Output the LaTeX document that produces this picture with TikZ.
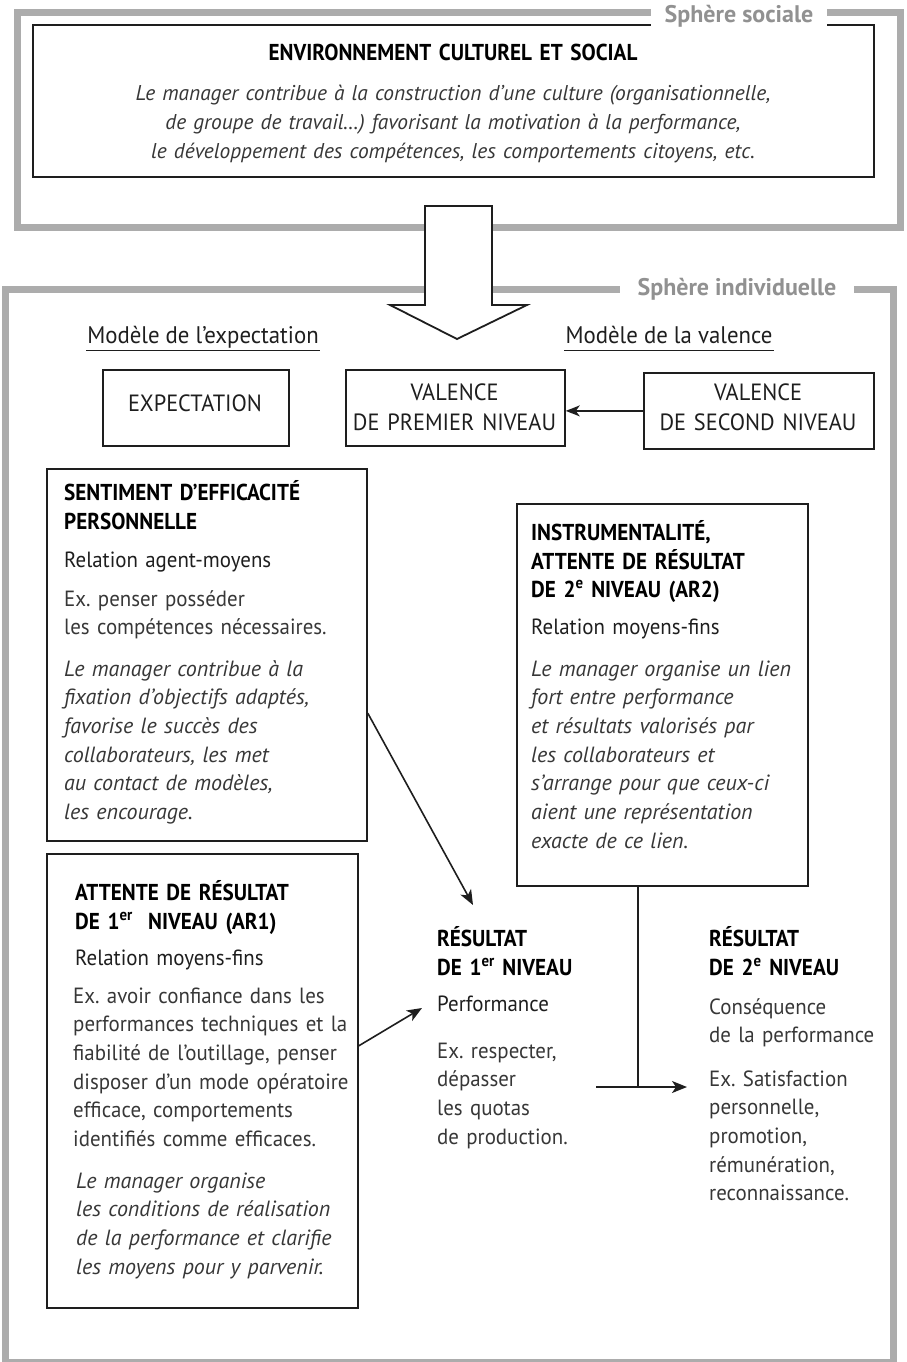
\documentclass[tikz,border=0pt]{standalone}
\usepackage{fontspec}
\setmainfont{PT Sans}[FakeStretch=0.95]
\newfontfamily\headfont{PT Sans}[FakeStretch=0.92]
\newfontfamily\itfont{PT Sans Italic}[FakeStretch=1.0]
\newfontfamily\labfont{PT Sans}
\usetikzlibrary{arrows.meta,calc}

\definecolor{framegray}{RGB}{172,172,172}
\definecolor{labelgray}{RGB}{145,145,145}
\definecolor{ink}{RGB}{30,30,30}
\definecolor{softink}{RGB}{55,55,55}

\tikzset{
  sphereframe/.style={draw=framegray, line width=7pt},
  spherelabel/.style={fill=white, text=labelgray, anchor=base, inner ysep=3pt,
    font=\labfont\bfseries\fontsize{24}{28}\selectfont},
  panel/.style={draw=ink, line width=1.8pt, inner sep=0pt, anchor=north west},
  textblock/.style={inner sep=0pt, anchor=base west, align=left, text width=340pt},
  centreblock/.style={inner sep=0pt, anchor=base, align=center, text width=300pt},
  hdtext/.style={font=\headfont\bfseries\fontsize{23}{28.7}\selectfont, text=black},
  reltext/.style={font=\fontsize{22}{28.7}\selectfont, text=ink},
  lighttext/.style={font=\fontsize{22}{28.7}\selectfont, text=softink},
  itext/.style={font=\itfont\fontsize{22}{28.7}\selectfont, text=softink},
  boxtext/.style={font=\fontsize{23.5}{30}\selectfont, text=ink},
  modeltext/.style={font=\fontsize{24}{28}\selectfont, text=ink, anchor=base,
    inner xsep=1pt, inner ysep=2pt, text depth=5pt},
  link/.style={draw=ink, line width=1.6pt, -{Stealth[length=15pt,width=12pt,inset=4pt]}},
  plainlink/.style={draw=ink, line width=1.6pt},
  bigarrow/.style={draw=ink, line width=1.8pt, fill=white, line join=miter},
}

\begin{document}
\begin{tikzpicture}[x=1pt, y=-1pt]
\useasboundingbox (0,0) rectangle (906,1362);

% the two spheres
\draw[sphereframe] (17,13) rectangle (900,227);
\draw[sphereframe] (5.5,289) rectangle (893,1362.5);

% broad arrow from the social sphere down to the individual sphere
\coordinate (flowtop) at (458.5,206);
\draw[bigarrow] ($(flowtop)+(-33.5,0)$) -- ++(67,0) -- ++(0,99) -- ++(35,0)
  -- ($(flowtop)+(-1.5,133)$) -- ($(flowtop)+(-68.5,99)$) -- ++(35,0) -- cycle;

% social environment
\node[panel, minimum width=841pt, minimum height=152pt] (env) at (32,24) {};
\node[centreblock, hdtext, text width=800pt] (envtitle) at (453,61) {ENVIRONNEMENT CULTUREL ET SOCIAL};
\node[centreblock, itext, font=\itfont\fontsize{21.4}{28.7}\selectfont, text width=820pt] (envtext) at (453,101)
  {Le manager contribue à la construction d’une culture (organisationnelle,\\
   de groupe de travail…) favorisant la motivation à la performance,\\
   le développement des compétences, les comportements citoyens, etc.};

% sphere labels, breaking the grey frames
\node[spherelabel, inner xsep=14pt] (lsocial) at (739,23) {Sphère sociale};
\node[spherelabel, inner xsep=18pt] (lindiv) at (737,295) {Sphère individuelle};

% model headings
\node[modeltext] (mexp) at (203,343) {Modèle de l’expectation};
\draw[ink, line width=1.2pt] (mexp.south west) -- (mexp.south east);
\node[modeltext] (mval) at (669,343) {Modèle de la valence};
\draw[ink, line width=1.2pt] (mval.south west) -- (mval.south east);

% expectation and valence boxes
\node[panel, minimum width=186pt, minimum height=76pt] (expect) at (102,369) {};
\node[centreblock, boxtext, text width=180pt] (expecttext) at (195,411) {EXPECTATION};
\node[panel, minimum width=219pt, minimum height=76pt] (val1) at (345,369) {};
\node[centreblock, boxtext, text width=215pt] (val1text) at (454.5,400) {VALENCE\\DE PREMIER NIVEAU};
\node[panel, minimum width=230pt, minimum height=76pt] (val2) at (643,372) {};
\node[centreblock, boxtext, text width=225pt] (val2text) at (758,400) {VALENCE\\DE SECOND NIVEAU};
\draw[link, -{Stealth[length=14pt,width=11pt,inset=4pt]}] (val2.west) -- (val2.west -| val1.east);

% self-efficacy
\node[panel, minimum width=320pt, minimum height=372pt] (sent) at (46,468) {};
\node[textblock, hdtext] (senthead) at (64,500.5) {SENTIMENT D’EFFICACITÉ\\PERSONNELLE};
\node[textblock, reltext] (sentrel) at (64,567) {Relation agent-moyens};
\node[textblock, lighttext] (sentex) at (64,606) {Ex.\ penser posséder\\les compétences nécessaires.};
\node[textblock, itext] (sentman) at (64,676)
  {Le manager contribue à la\\fixation d’objectifs adaptés,\\favorise le succès des\\
   collaborateurs, les met\\au contact de modèles,\\les encourage.};

% instrumentality
\node[panel, minimum width=291pt, minimum height=382pt] (instr) at (516,503) {};
\node[textblock, hdtext] (instrhead) at (531,540.5)
  {INSTRUMENTALITÉ,\\ATTENTE DE RÉSULTAT\\DE 2\textsuperscript{e} NIVEAU (AR2)};
\node[textblock, reltext] (instrrel) at (531,634) {Relation moyens-fins};
\node[textblock, itext] (instrman) at (531,676)
  {Le manager organise un lien\\fort entre performance\\et résultats valorisés par\\
   les collaborateurs et\\s’arrange pour que ceux-ci\\aient une représentation\\exacte de ce lien.};

% first-level outcome expectancy
\node[panel, minimum width=311pt, minimum height=454pt] (ar1) at (46,853) {};
\node[textblock, hdtext] (ar1head) at (75,900.5)
  {ATTENTE DE RÉSULTAT\\DE 1\textsuperscript{er}\ \ NIVEAU (AR1)};
\node[textblock, reltext] (ar1rel) at (75,965) {Relation moyens-fins};
\node[textblock, lighttext] (ar1ex) at (73,1003)
  {Ex.\ avoir confiance dans les\\performances techniques et la\\fiabilité de l’outillage, penser\\
   disposer d’un mode opératoire\\efficace, comportements\\identifiés comme efficaces.};
\node[textblock, itext] (ar1man) at (76,1188)
  {Le manager organise\\les conditions de réalisation\\de la performance et clarifie\\les moyens pour y parvenir.};

% first-level result
\node[textblock, hdtext, text width=200pt] (res1head) at (437,946.5) {RÉSULTAT\\DE 1\textsuperscript{er} NIVEAU};
\node[textblock, reltext, text width=200pt] (res1rel) at (437,1011) {Performance};
\node[textblock, lighttext, text width=200pt] (res1ex) at (437,1058)
  {Ex.\ respecter,\\dépasser\\les quotas\\de production.};

% second-level result
\node[textblock, hdtext, text width=190pt] (res2head) at (709,946.5) {RÉSULTAT\\DE 2\textsuperscript{e} NIVEAU};
\node[textblock, lighttext, text width=190pt] (res2cons) at (709,1014) {Conséquence\\de la performance};
\node[textblock, lighttext, text width=190pt] (res2ex) at (709,1086)
  {Ex.\ Satisfaction\\personnelle,\\promotion,\\rémunération,\\reconnaissance.};

% links
\coordinate (res1top) at (473,905);
\coordinate (res1side) at (422,1008);
\coordinate (fork) at (638,1087);
\coordinate (perfout) at (596,1087);
\coordinate (conseqin) at (687,1087);
\draw[link] ($(sent.north east)!0.656!(sent.south east)$) -- (res1top);
\draw[link] ($(ar1.north east)!0.423!(ar1.south east)$) -- (res1side);
\draw[plainlink] (fork |- instr.south) -- (fork);
\draw[link] (perfout) -- (conseqin);
\end{tikzpicture}
\end{document}
